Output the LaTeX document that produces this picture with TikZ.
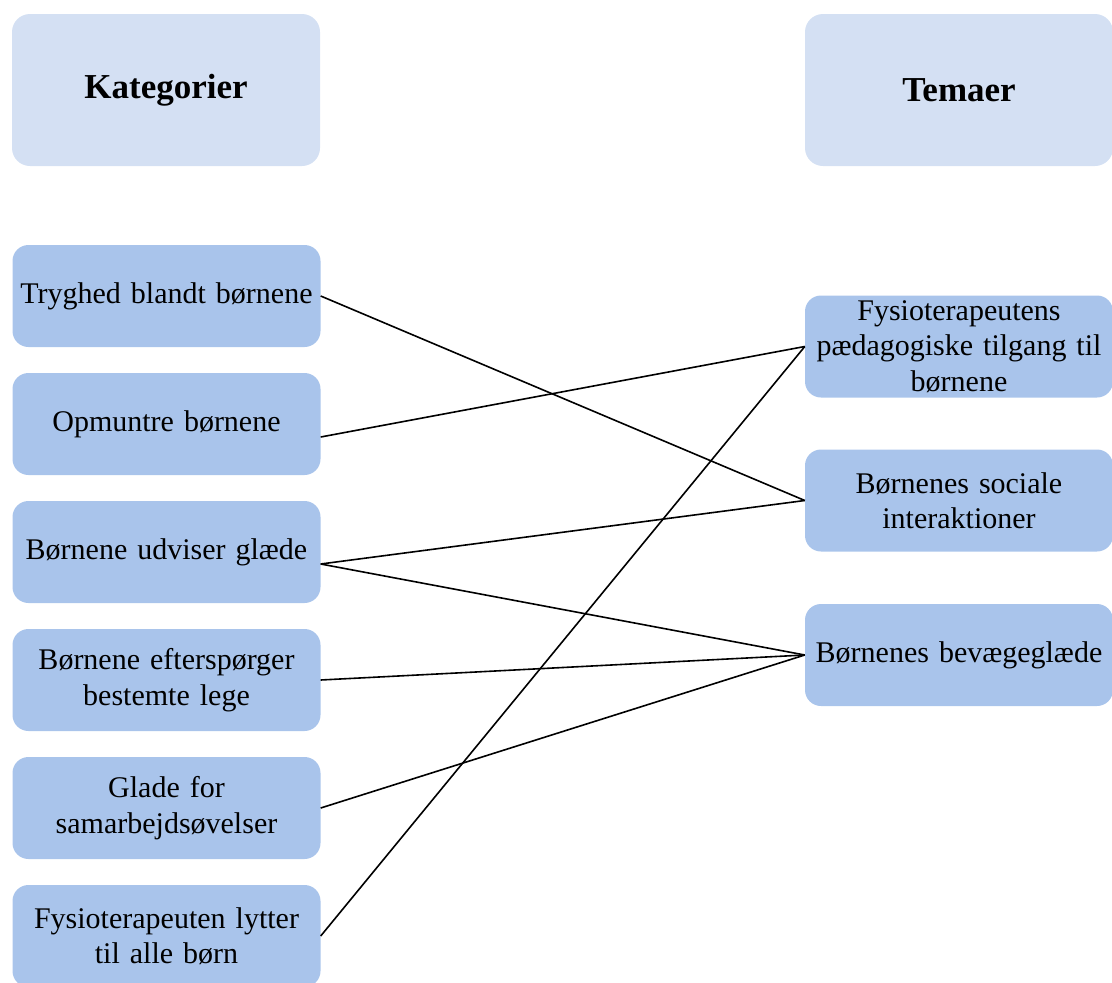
\documentclass[tikz,border=0pt]{standalone}
\usepackage{fontspec}
\setmainfont{Liberation Serif}
\definecolor{headfill}{RGB}{212,224,243}
\definecolor{boxfill}{RGB}{169,196,235}
\begin{document}
\begin{tikzpicture}[x=1pt,y=-1pt,
  head/.style={rectangle,rounded corners=18pt,fill=headfill,minimum width=308pt,minimum height=152pt,
    inner sep=0pt,font=\fontsize{35}{40}\selectfont\bfseries},
  catbox/.style={rectangle,rounded corners=16pt,fill=boxfill,minimum width=308pt,minimum height=102pt,
    inner sep=0pt,align=center,text width=304pt,font=\fontsize{30}{35.5}\selectfont},
  link/.style={draw=black,line width=1.6pt}]
\useasboundingbox (0,0) rectangle (1112,983);

% column headings
\node[head] (hk) at (166,90) {\raisebox{-3pt}{Kategorier}};
\node[head] (ht) at (959,90) {Temaer};

% categories
\node[catbox] (c1) at (166.5,296) {Tryghed blandt børnene};
\node[catbox] (c2) at (166.5,424) {Opmuntre børnene};
\node[catbox] (c3) at (166.5,552) {Børnene udviser glæde};
\node[catbox] (c4) at (166.5,680) {Børnene efterspørger\\bestemte lege};
\node[catbox] (c5) at (166.5,808) {Glade for\\samarbejdsøvelser};
\node[catbox] (c6) at (166.5,936) {Fysioterapeuten lytter\\til alle børn};

% themes
\node[catbox] (t1) at (959,346.5) {Fysioterapeutens\\pædagogiske tilgang til\\børnene};
\node[catbox] (t2) at (959,500.5) {Børnenes sociale\\interaktioner};
\node[catbox] (t3) at (959,655) {Børnenes bevægeglæde};

% connections between categories and themes
\draw[link] (c1.east) -- (t2.west);
\draw[link] ([yshift=-13pt]c2.east) -- (t1.west);
\draw[link] ([yshift=-12pt]c3.east) -- (t2.west);
\draw[link] ([yshift=-12pt]c3.east) -- (t3.west);
\draw[link] (c4.east) -- (t3.west);
\draw[link] (c5.east) -- (t3.west);
\draw[link] (c6.east) -- (t1.west);
\end{tikzpicture}
\end{document}
